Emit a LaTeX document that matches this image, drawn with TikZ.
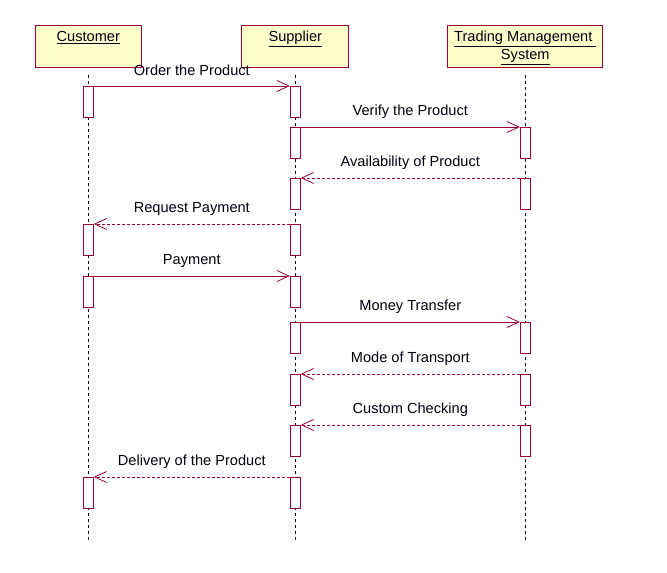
\documentclass[tikz,border=0pt]{standalone}
\usepackage{fontspec}
\setmainfont{Liberation Sans}
\usetikzlibrary{arrows.meta}
\definecolor{umlred}{HTML}{990033}
\definecolor{umlfill}{HTML}{FFFFCC}
\definecolor{umltext}{HTML}{000011}
\tikzset{
  objbox/.style={draw=umlred, fill=umlfill, line width=0.9pt, minimum height=42pt, inner sep=0pt},
  objtitle/.style={anchor=north, font=\fontsize{14.6}{18}\selectfont, text=umltext, align=center, inner sep=0pt},
  actbox/.style={draw=umlred, fill=white, line width=0.9pt, minimum width=10pt, minimum height=31pt, anchor=north, inner sep=0pt},
  lifeline/.style={draw=black, line width=0.7pt, dash pattern=on 3pt off 3pt},
  callmsg/.style={draw=umlred, line width=0.8pt, -{Straight Barb[length=12pt,width=11pt,line width=0.8pt]}},
  retmsg/.style={draw=umlred, line width=0.8pt, dash pattern=on 3pt off 2pt, -{Straight Barb[length=12pt,width=11pt,line width=0.8pt]}},
  msglabel/.style={font=\fontsize{14.6}{16}\selectfont, text=umltext, inner sep=0pt, yshift=15.5pt}
}
\begin{document}
\begin{tikzpicture}[x=1pt,y=-1pt]
\useasboundingbox (0,0) rectangle (667,573);
% objects
\node[objbox, minimum width=106pt, anchor=north] (cust) at (88.3,25) {};
\node[objbox, minimum width=107pt, anchor=north] (supp) at (295.3,25) {};
\node[objbox, minimum width=155pt, anchor=north] (tms) at (525.3,25) {};
\node[objtitle] (custt) at (88.3,31) {\underline{Customer}};
\node[objtitle] (suppt) at (295.3,31) {\underline{Supplier}};
\node[objtitle] (tmst) at (525.3,31) {\underline{Trading Management\ }\\\underline{System}};
% lifelines
\coordinate (cl1) at (88.3,75); \coordinate (cl2) at (88.3,540);
\coordinate (sl1) at (295.3,75); \coordinate (sl2) at (295.3,540);
\coordinate (tl1) at (525.3,75); \coordinate (tl2) at (525.3,540);
\draw[lifeline] (cl1) -- (cl2);
\draw[lifeline] (sl1) -- (sl2);
\draw[lifeline] (tl1) -- (tl2);
% activation boxes
\node[actbox] (c1) at (88.3,86) {};
\node[actbox] (s1) at (295.3,86) {};
\node[actbox] (s2) at (295.3,127) {};
\node[actbox] (t2) at (525.3,127) {};
\node[actbox] (s3) at (295.3,178) {};
\node[actbox] (t3) at (525.3,178) {};
\node[actbox] (c4) at (88.3,224) {};
\node[actbox] (s4) at (295.3,224) {};
\node[actbox] (c5) at (88.3,276) {};
\node[actbox] (s5) at (295.3,276) {};
\node[actbox] (s6) at (295.3,322) {};
\node[actbox] (t6) at (525.3,322) {};
\node[actbox] (s7) at (295.3,374) {};
\node[actbox] (t7) at (525.3,374) {};
\node[actbox] (s8) at (295.3,425) {};
\node[actbox] (t8) at (525.3,425) {};
\node[actbox] (c9) at (88.3,477) {};
\node[actbox] (s9) at (295.3,477) {};
% messages
\draw[callmsg] (c1.north east) -- node[msglabel] (m1) {Order the Product} (s1.north west);
\draw[callmsg] (s2.north east) -- node[msglabel] (m2) {Verify the Product} (t2.north west);
\draw[retmsg] (t3.north west) -- node[msglabel] (m3) {Availability of Product} (s3.north east);
\draw[retmsg] (s4.north west) -- node[msglabel] (m4) {Request Payment} (c4.north east);
\draw[callmsg] (c5.north east) -- node[msglabel] (m5) {Payment} (s5.north west);
\draw[callmsg] (s6.north east) -- node[msglabel] (m6) {Money Transfer} (t6.north west);
\draw[retmsg] (t7.north west) -- node[msglabel] (m7) {Mode of Transport} (s7.north east);
\draw[retmsg] (t8.north west) -- node[msglabel] (m8) {Custom Checking} (s8.north east);
\draw[retmsg] (s9.north west) -- node[msglabel] (m9) {Delivery of the Product} (c9.north east);
\end{tikzpicture}
\end{document}
